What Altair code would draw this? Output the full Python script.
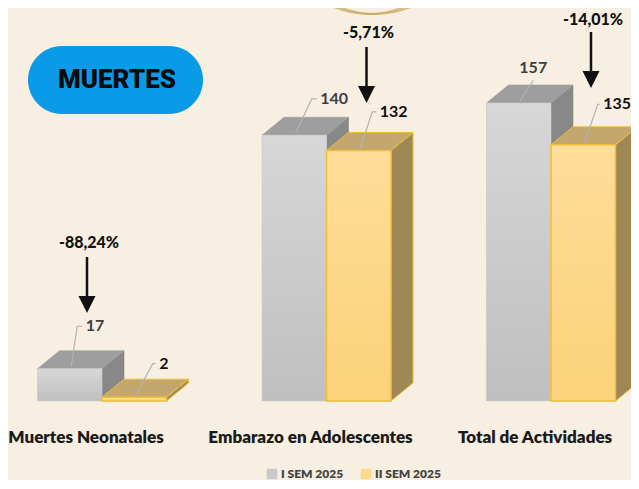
import altair as alt
import pandas as pd

# ---------------- data ----------------
categories = ["Muertes Neonatales", "Embarazo en Adolescentes", "Total de Actividades"]
series_names = ["I SEM 2025", "II SEM 2025"]
sem1_values = [17, 140, 157]
sem2_values = [2, 132, 135]
pct_change = ["-88,24%", "-5,71%", "-14,01%"]

# ---------------- layout (measured in page pixels) ----------------
MARGIN = 8
PLOT_W, PLOT_H = 623, 472
X_STEP = 224.5          # px between category centres
X_ORIGIN = 102 - MARGIN # plot px of first category centre
Y_UNIT = 1.898          # px per value unit
Y_BASE = 401 - MARGIN   # plot px of the baseline


def ux(px):
    return px / X_STEP


def uy(px):
    return px / Y_UNIT


def px2x(p):
    return (p - MARGIN - X_ORIGIN) / X_STEP


def py2y(p):
    return (Y_BASE - (p - MARGIN)) / Y_UNIT


X_DOMAIN = [px2x(MARGIN), px2x(MARGIN + PLOT_W)]
Y_DOMAIN = [py2y(MARGIN + PLOT_H), py2y(MARGIN)]

BW = ux(64.5)
DX = ux(22)
DY = uy(18)

FRONT_COL = ["#c9c9c9", "#fdd98c"]
TOP_COL = ["#9e9e9e", "#c4a66f"]
SIDE_COL = ["#888888", "#9f8756"]
EDGE_COL = [None, "#efbe38"]

xs = alt.Scale(domain=X_DOMAIN, nice=False, zero=False)
ys = alt.Scale(domain=Y_DOMAIN, nice=False, zero=False)


def X(f):
    return alt.X(f, type="quantitative", scale=xs, axis=None)


def Y(f):
    return alt.Y(f, type="quantitative", scale=ys, axis=None, stack=None)


# ---------------- geometry built from the data ----------------
front_rows, face_rows, lead_rows, vlab_rows = [], [], [], []
label_layout = [
    [(6, 40, 5, "left"), (16, 34, 5, "left"), (13, 20, 0, "above")],
    [(17, 31, 3, "left"), (12, 36, 4, "left"), (13, 38, 2, "left")],
]
lab_colors = ["#3d3d3d", "#111111"]
for s, (sname, vals) in enumerate(zip(series_names, [sem1_values, sem2_values])):
    for i, v in enumerate(vals):
        xl = i - BW if s == 0 else i
        xr = xl + BW
        front_rows.append(dict(series=sname, sidx=s, x1=xl, x2=xr, y0=0, y1=v))
        edge_top = EDGE_COL[s] or TOP_COL[s]
        edge_side = EDGE_COL[s] or SIDE_COL[s]
        fid = f"{s}-{i}"
        face_rows += [
            dict(face=fid + "s", sidx=s, x=xr, lo=0, hi=v, fill=SIDE_COL[s], stroke=edge_side),
            dict(face=fid + "s", sidx=s, x=xr + DX, lo=DY, hi=v + DY, fill=SIDE_COL[s], stroke=edge_side),
        ]
        face_rows += [
            dict(face=fid + "t", sidx=s, x=xl, lo=v, hi=v, fill=TOP_COL[s], stroke=edge_top),
            dict(face=fid + "t", sidx=s, x=xl + DX, lo=v, hi=v + DY, fill=TOP_COL[s], stroke=edge_top),
            dict(face=fid + "t", sidx=s, x=xr, lo=v, hi=v + DY, fill=TOP_COL[s], stroke=edge_top),
            dict(face=fid + "t", sidx=s, x=xr + DX, lo=v + DY, hi=v + DY, fill=TOP_COL[s], stroke=edge_top),
        ]
        edx, edy, tail, mode = label_layout[s][i]
        sx, sy = (xl + xr) / 2 + ux(1.5), v + uy(2.5)
        ex, ey = sx + ux(edx), sy + uy(edy)
        tx = ex + ux(tail)
        lead_rows += [
            dict(lab=fid, ord=0, x=sx, y=sy),
            dict(lab=fid, ord=1, x=ex, y=ey),
            dict(lab=fid, ord=2, x=tx, y=ey),
        ]
        if mode == "left":
            vlab_rows.append(dict(x=tx + ux(3.5), y=ey, text=str(v), color=lab_colors[s], anchor="left"))
        else:
            vlab_rows.append(dict(x=ex, y=ey + uy(13), text=str(v), color=lab_colors[s], anchor="center"))

front = pd.DataFrame(front_rows)
faces = pd.DataFrame(face_rows)
leads = pd.DataFrame(lead_rows)
vlabs = pd.DataFrame(vlab_rows)

arrow_dx_px = [-15, 40, 40]
arrow_tip_page = [313, 103, 88]
text_gap_px = [70, 70, 68]
arr = pd.DataFrame(
    dict(
        x=[i + ux(d) for i, d in enumerate(arrow_dx_px)],
        tip=[py2y(t) for t in arrow_tip_page],
        gap=[uy(g) for g in text_gap_px],
        text=pct_change,
    )
)
arr["head"] = arr["tip"] + uy(8.5)
arr["s0"] = arr["tip"] + uy(14)
arr["s1"] = arr["tip"] + uy(56)
arr["ty"] = arr["tip"] + arr["gap"]
arr["tx"] = arr["x"] + ux(2)

cats = pd.DataFrame(dict(x=[i + ux(-16) for i in range(len(categories))],
                         y=[py2y(438)] * len(categories), text=categories))

badge = pd.DataFrame(dict(x1=[px2x(28)], x2=[px2x(203)], y1=[py2y(114)], y2=[py2y(46)],
                          tx=[px2x(117)], ty=[py2y(80)], text=["MUERTES"]))
rings = pd.DataFrame(dict(x=[px2x(369), px2x(375)], y=[py2y(-77), py2y(-80)],
                          size=[182 ** 2, 188 ** 2]))

# ---------------- layers ----------------
layers = []
layers.append(alt.Chart(rings).mark_point(shape="circle", filled=False, stroke="#c9a45e", strokeWidth=2).encode(
    x=X("x"), y=Y("y"), size=alt.Size("size:Q", scale=None)))

for s in range(2):
    fsub = faces[faces.sidx == s]
    layers.append(
        alt.Chart(fsub).mark_area(strokeWidth=1 if s else 0.6, interpolate="linear", opacity=1,
                                  orient="vertical").encode(
            x=X("x"), y=Y("lo"), y2="hi:Q", detail="face:N",
            fill=alt.Fill("fill:N", scale=None), stroke=alt.Stroke("stroke:N", scale=None))
    )
    sub = front[front.sidx == s]
    if s == 0:
        grad = alt.LinearGradient(gradient="linear", x1=0, x2=0, y1=0, y2=1,
                                  stops=[alt.GradientStop(color="#d7d7d7", offset=0),
                                         alt.GradientStop(color="#bfbfbf", offset=1)])
        stroke_kw = dict(stroke="#cdcdcd", strokeWidth=0.6)
    else:
        grad = alt.LinearGradient(gradient="linear", x1=0, x2=0, y1=0, y2=1,
                                  stops=[alt.GradientStop(color="#fedd98", offset=0),
                                         alt.GradientStop(color="#fcd27a", offset=1)])
        stroke_kw = dict(stroke="#efbe38", strokeWidth=1.5)
    layers.append(
        alt.Chart(sub).mark_rect().encode(
            x=X("x1"), x2="x2:Q", y=Y("y0"), y2="y1:Q",
            color=alt.Color("series:N",
                            scale=alt.Scale(domain=series_names, range=FRONT_COL),
                            legend=alt.Legend(orient="none", legendX=258, legendY=460, direction="horizontal",
                                              title=None, symbolType="square", symbolSize=110,
                                              symbolStrokeWidth=0, labelFont="Lato", labelFontSize=12,
                                              labelFontWeight=800, labelColor="#444444",
                                              columnPadding=16, labelOffset=3)))
    )
    layers.append(
        alt.Chart(sub).mark_rect(fill=grad, **stroke_kw).encode(
            x=X("x1"), x2="x2:Q", y=Y("y0"), y2="y1:Q")
    )

layers.append(
    alt.Chart(leads).mark_line(color="#b3b3b3", strokeWidth=1.2).encode(
        x=X("x"), y=Y("y"), detail="lab:N", order="ord:Q")
)
for anchor in ["left", "center"]:
    layers.append(
        alt.Chart(vlabs[vlabs["anchor"] == anchor]).mark_text(
            font="Lato", fontSize=16, fontWeight="bold", baseline="middle", align=anchor).encode(
            x=X("x"), y=Y("y"), text="text:N", color=alt.Color("color:N", scale=None))
    )

layers.append(alt.Chart(arr).mark_rule(color="#111111", strokeWidth=2.5).encode(
    x=X("x"), y=Y("s0"), y2="s1:Q"))
layers.append(alt.Chart(arr).mark_point(shape="M-1,-1L1,-1L0,1Z", filled=True, color="#111111",
                                        opacity=1, size=290, strokeWidth=0).encode(
    x=X("x"), y=Y("head")))
layers.append(alt.Chart(arr).mark_text(font="Lato", fontSize=16, fontWeight=900, color="#111111",
                                       baseline="middle", align="center").encode(
    x=X("tx"), y=Y("ty"), text="text:N"))

layers.append(alt.Chart(cats).mark_text(font="Lato", fontSize=17, fontWeight=800, color="#1a1a1a",
                                        baseline="middle", align="center").encode(
    x=X("x"), y=Y("y"), text="text:N"))

layers.append(alt.Chart(badge).mark_rect(color="#0a9ae8", cornerRadius=34).encode(
    x=X("x1"), x2="x2:Q", y=Y("y1"), y2="y2:Q"))
layers.append(alt.Chart(badge).mark_text(font="Roboto", fontSize=26, fontWeight=900, color="#0b0b0b",
                                         baseline="middle", align="center").encode(
    x=X("tx"), y=Y("ty"), text="text:N"))

chart = alt.layer(*layers).properties(
    width=PLOT_W, height=PLOT_H, padding=0,
    autosize=alt.AutoSizeParams(type="none"),
    background="#f7efe1",
).configure_view(stroke=None)

chart.save("out.html", embed_options={"renderer": "svg", "actions": False})
